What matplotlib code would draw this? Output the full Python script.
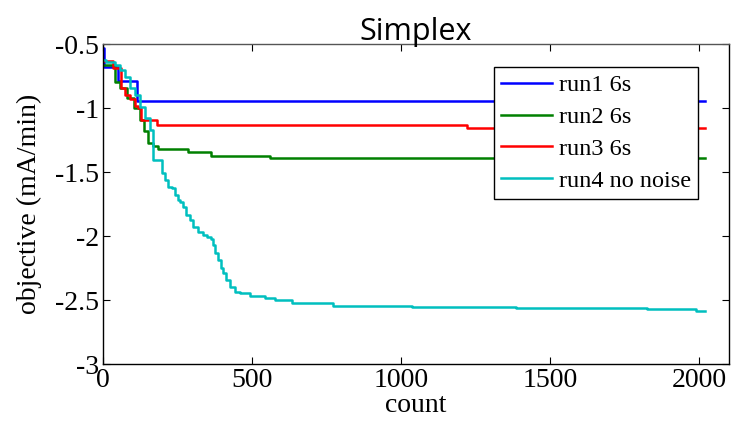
import matplotlib
matplotlib.use("Agg")
import matplotlib.pyplot as plt

# ---- data ----
run1_count = [0, 3, 50, 113, 2020]
run1_obj = [-0.53, -0.68, -0.79, -0.945, -0.945]

run2_count = [0, 40, 57, 80, 105, 124, 137, 150, 167, 184, 285, 361, 559, 2020]
run2_obj = [-0.66, -0.80, -0.84, -0.92, -1.0, -1.094, -1.18, -1.27, -1.30, -1.32,
            -1.344, -1.375, -1.39, -1.39]

run3_count = [0, 33, 60, 75, 90, 107, 118, 127, 180, 1222, 2020]
run3_obj = [-0.63, -0.69, -0.84, -0.90, -0.93, -0.98, -1.0, -1.094, -1.133, -1.156, -1.156]

run4_count = [0, 10, 40, 57, 74, 90, 107, 124, 141, 157, 167, 197, 207, 218, 231, 241,
              251, 258, 268, 278, 291, 301, 318, 335, 348, 361, 368, 375, 385, 395,
              402, 412, 425, 442, 458, 492, 542, 576, 633, 770, 1037, 1386, 1824,
              1988, 2020]
run4_obj = [-0.625, -0.64, -0.66, -0.70, -0.76, -0.84, -0.90, -0.99, -1.08, -1.17,
            -1.406, -1.508, -1.5625, -1.617, -1.625, -1.68, -1.72, -1.734, -1.773,
            -1.836, -1.875, -1.93, -1.969, -1.992, -2.008, -2.023, -2.07, -2.133,
            -2.188, -2.25, -2.289, -2.344, -2.398, -2.438, -2.445, -2.469, -2.484,
            -2.5, -2.523, -2.547, -2.555, -2.5625, -2.57, -2.586, -2.586]

labels = ["run1 6s", "run2 6s", "run3 6s", "run4 no noise"]
colors = ["#0000FF", "#008000", "#FF0000", "#00BFBF"]

xticks = [0, 500, 1000, 1500, 2000]
yticks = [-3, -2.5, -2, -1.5, -1, -0.5]
ytick_labels = ["-3", "-2.5", "-2", "-1.5", "-1", "-0.5"]

plt.rcParams["axes.unicode_minus"] = False
serif = ["Liberation Serif", "DejaVu Serif"]

fig = plt.figure(figsize=(7.33, 4.26), dpi=100)
ax = fig.add_axes([0.1405, 0.1455, 0.854, 0.751])

series = [(run1_count, run1_obj), (run2_count, run2_obj),
          (run3_count, run3_obj), (run4_count, run4_obj)]
for (c, v), lab, col in zip(series, labels, colors):
    ax.plot(c, v, drawstyle="steps-post", color=col, lw=1.8, label=lab)

ax.set_xlim(0, 2100)
ax.set_ylim(-3, -0.5)
ax.set_xticks(xticks)
ax.set_xticklabels([str(t) for t in xticks], family=serif, fontsize=20)
ax.set_yticks(yticks)
ax.set_yticklabels(ytick_labels, family=serif, fontsize=20)
ax.tick_params(direction="in", top=True, right=True, length=5, width=0.8, pad=3)
for s in ax.spines.values():
    s.set_linewidth(1.0)
    s.set_color("black")
ax.spines["top"].set_color("#555555")

ax.set_xlabel("count", family=serif, fontsize=20, labelpad=0)
ax.set_ylabel("objective (mA/min)", family=serif, fontsize=20, labelpad=9)
ax.set_title("Simplex", family=["Open Sans", "DejaVu Sans"], fontsize=22, pad=3)

leg = ax.legend(loc="upper right", bbox_to_anchor=(0.9505, 0.928), borderaxespad=0,
                prop={"family": serif, "size": 17.5}, fancybox=False, framealpha=1,
                edgecolor="black", handlelength=2.1, handletextpad=0.25,
                labelspacing=0.40, borderpad=0.3)
leg.get_frame().set_linewidth(1.0)

fig.savefig("out.png", dpi=100)
